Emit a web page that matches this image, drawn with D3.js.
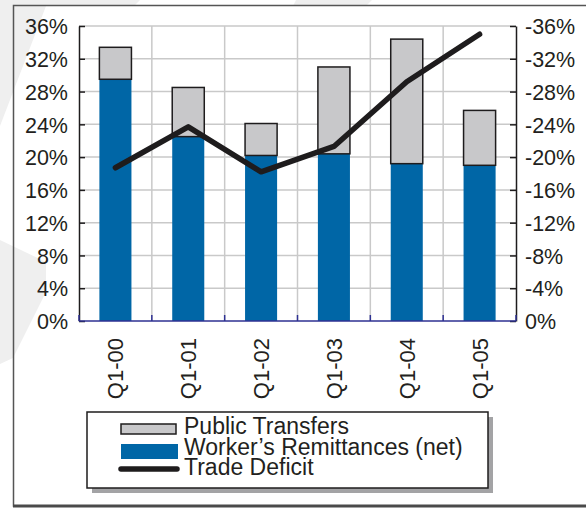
<!DOCTYPE html>
<html>
<head>
<meta charset="utf-8">
<script src="https://cdn.jsdelivr.net/npm/d3@7"></script>
<style>
  body { margin: 0; background: #fff; }
  text { font-family: "Liberation Sans", Arial, sans-serif; fill: #231f20; }
</style>
</head>
<body>
<div id="chart"></div>
<script>
// values (percent)
const quarters = ["Q1-00", "Q1-01", "Q1-02", "Q1-03", "Q1-04", "Q1-05"];
const remittances = [29.5, 22.5, 20.2, 20.4, 19.2, 19.0];
const publicTransfers = [3.9, 6.0, 3.9, 10.6, 15.2, 6.7];
const tradeDeficit = [-18.7, -23.7, -18.2, -21.3, -29.2, -35.0];
const leftTicks = [0, 4, 8, 12, 16, 20, 24, 28, 32, 36];
const rightTicks = [0, -4, -8, -12, -16, -20, -24, -28, -32, -36];
const legendLabels = ["Public Transfers", "Worker\u2019s Remittances (net)", "Trade Deficit"];

let w = 586,
    h = 508;

let blue = '#0066a6',
    grey = '#c8c8ca',
    ink = '#1e1c1d';

let svg = d3.select('#chart').append('svg')
    .attr('width', w)
    .attr('height', h)

// faint watermark shapes behind the frame
let wm = svg.append('g').attr('fill', '#efefef')
wm.append('path').attr('d', 'M0,0 L140,0 L134,6 L46,6 L0,126 Z')
wm.append('path').attr('d', 'M296,0 L372,0 L366,6 L293,6 Z')
wm.append('path').attr('d', 'M0,240 L46,262 L46,292 L13,358 L0,364 Z')

// outer frame
svg.append('path')
    .attr('d', `M${w + 2},5.5 L13.5,5.5 L13.5,506 L${w + 2},506`)
    .attr('fill', 'none')
    .attr('stroke', '#555')
    .attr('stroke-width', 1.5)
svg.append('line')
    .attr('x1', 13).attr('x2', w).attr('y1', 506).attr('y2', 506)
    .attr('stroke', '#4a4a4a').attr('stroke-width', 3)

let margin = { top: 26, right: 70, bottom: 187, left: 79 };

let x = d3.scaleBand()
    .domain(quarters)
    .range([margin.left, w - margin.right]);

let y = d3.scaleLinear()
    .domain([0, 36])
    .range([h - margin.bottom, margin.top]);

let y2 = d3.scaleLinear()
    .domain([0, -36])
    .range([h - margin.bottom, margin.top]);

let barW = x.bandwidth() * 0.44;

// plot background
svg.append('rect')
    .attr('x', margin.left).attr('y', margin.top)
    .attr('width', x.range()[1] - margin.left)
    .attr('height', y(0) - margin.top)
    .attr('fill', '#fff')

// grid
let grid = svg.append('g').attr('stroke', '#c9c9c9').attr('stroke-width', 1.5)
grid.selectAll('.hgrid')
    .data(leftTicks.slice(1))
    .enter().append('line')
    .attr('x1', margin.left).attr('x2', x.range()[1])
    .attr('y1', d => y(d)).attr('y2', d => y(d))
let bounds = quarters.slice(1).map(q => x(q));
grid.selectAll('.vgrid')
    .data(bounds)
    .enter().append('line')
    .attr('x1', d => d).attr('x2', d => d)
    .attr('y1', y(36)).attr('y2', y(0))

// bars: remittances at the bottom, public transfers stacked on top
let bars = svg.append('g')
bars.selectAll('.remit')
    .data(quarters)
    .enter().append('rect')
    .attr('x', d => x(d) + (x.bandwidth() - barW) / 2)
    .attr('y', (d, i) => y(remittances[i]))
    .attr('width', barW)
    .attr('height', (d, i) => y(0) - y(remittances[i]))
    .attr('fill', blue)
bars.selectAll('.transfer')
    .data(quarters)
    .enter().append('rect')
    .attr('x', d => x(d) + (x.bandwidth() - barW) / 2)
    .attr('y', (d, i) => y(remittances[i] + publicTransfers[i]))
    .attr('width', barW)
    .attr('height', (d, i) => y(remittances[i]) - y(remittances[i] + publicTransfers[i]))
    .attr('fill', grey)
    .attr('stroke', ink)
    .attr('stroke-width', 1.5)

// axes
let leftAxis = svg.append('g')
    .attr('transform', `translate(${margin.left},0)`)
    .call(d3.axisLeft(y).tickValues(leftTicks).tickSizeInner(-6).tickSizeOuter(0)
        .tickPadding(11).tickFormat(d => d + '%'))
let rightAxis = svg.append('g')
    .attr('transform', `translate(${x.range()[1]},0)`)
    .call(d3.axisRight(y2).tickValues(rightTicks).tickSizeInner(-6).tickSizeOuter(0)
        .tickPadding(9).tickFormat(d => d + '%'))
svg.selectAll('.tick text')
    .style('font-size', '21.5px')
    .attr('dy', '0.36em')
    .attr('fill', ink)
svg.selectAll('.domain, .tick line')
    .attr('stroke', ink)
    .attr('stroke-width', 1.5)

// bottom axis: navy baseline with small ticks at band edges
let bottom = svg.append('g').attr('stroke', '#2e3192').attr('stroke-width', 1.5)
bottom.append('line')
    .attr('x1', margin.left).attr('x2', x.range()[1])
    .attr('y1', y(0)).attr('y2', y(0))
bottom.selectAll('.btick')
    .data([margin.left].concat(bounds, [x.range()[1]]))
    .enter().append('line')
    .attr('x1', d => d).attr('x2', d => d)
    .attr('y1', y(0)).attr('y2', y(0) - 6)

svg.append('g').selectAll('text')
    .data(quarters)
    .enter().append('text')
    .attr('transform', d => `translate(${x(d) + x.bandwidth() / 2},${y(0) + 17}) rotate(-90)`)
    .attr('text-anchor', 'end')
    .attr('dy', '0.36em')
    .style('font-size', '22px')
    .text(d => d)

// trade deficit line (right axis)
let line = d3.line()
    .x(d => x(d.q) + x.bandwidth() / 2)
    .y(d => y2(d.v));
svg.append('path')
    .datum(quarters.map((q, i) => ({ q: q, v: tradeDeficit[i] })))
    .attr('d', line)
    .attr('fill', 'none')
    .attr('stroke', ink)
    .attr('stroke-width', 5.5)
    .attr('stroke-linecap', 'round')
    .attr('stroke-linejoin', 'round')

// legend
let lg = svg.append('g').attr('transform', 'translate(87,412)')
lg.append('rect')
    .attr('x', 5).attr('y', 5).attr('width', 401).attr('height', 76)
    .attr('fill', '#a3a3a5')
lg.append('rect')
    .attr('width', 401).attr('height', 76)
    .attr('fill', '#fff').attr('stroke', ink).attr('stroke-width', 1.5)
lg.append('rect')
    .attr('x', 34).attr('y', 12).attr('width', 55).attr('height', 10)
    .attr('fill', grey).attr('stroke', ink).attr('stroke-width', 1.5)
lg.append('rect')
    .attr('x', 34).attr('y', 32).attr('width', 57).attr('height', 15)
    .attr('fill', blue)
lg.append('line')
    .attr('x1', 34).attr('x2', 90).attr('y1', 57).attr('y2', 57)
    .attr('stroke', ink).attr('stroke-width', 5.5).attr('stroke-linecap', 'round')
lg.selectAll('.lab')
    .data(legendLabels)
    .enter().append('text')
    .attr('x', 97)
    .attr('y', (d, i) => 22 + i * 20.7)
    .style('font-size', '23px')
    .text(d => d)
</script>
</body>
</html>
